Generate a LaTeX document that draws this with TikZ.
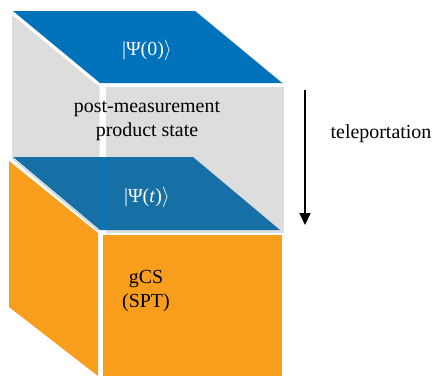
\documentclass[tikz,border=0pt]{standalone}
\usepackage{fontspec}
\setmainfont{Liberation Serif}
\usetikzlibrary{arrows.meta}
\definecolor{topblue}{RGB}{0,114,187}
\definecolor{midblue}{RGB}{22,112,166}
\definecolor{gapblue}{RGB}{8,117,186}
\definecolor{facegray}{RGB}{221,221,221}
\definecolor{edgegray}{RGB}{200,200,200}
\definecolor{cubeorange}{RGB}{249,158,28}
\begin{document}
\begin{tikzpicture}[x=1bp,y=-1bp,
  lbl/.style={font=\fontsize{20}{24}\selectfont, align=center, inner sep=0pt},
  flow/.style={line width=2bp, -{Triangle[width=11bp,length=12bp]}}]
\useasboundingbox (0,0) rectangle (434,376);
% gray faces (upper block)
\fill[facegray] (12,15) -- (99.5,87) -- (99.5,157) -- (12,157) -- cycle;
\fill[facegray] (106,87) rectangle (284,233);
% top blue face
\draw[edgegray, line width=1bp] (196,12) -- (283,84);
\fill[topblue] (13,11) -- (195,11) -- (282,83) -- (100,83) -- cycle;
% orange faces (lower block)
\fill[cubeorange] (9,161) -- (98,233) -- (98,376) -- (9,307) -- cycle;
\fill[cubeorange] (103,235) rectangle (282,376);
% middle blue face
\draw[edgegray, line width=1bp] (12,158) -- (99,231);
\fill[midblue] (13,157) -- (193,157) -- (280,230) -- (100,230) -- cycle;
\fill[gapblue] (100.5,157) rectangle (105.5,230);
% labels
\node[lbl, text=white] (psi0) at (147,50) {|Ψ(0)$\rangle$};
\node[lbl] (post) at (147,121) {post-measurement\\product state};
\node[lbl, text=white] (psit) at (147,197) {|Ψ(\textit{t})$\rangle$};
\node[lbl] (gcs) at (146,291) {gCS\\(SPT)};
\node[lbl] (tele) at (381,134) {teleportation};
% arrow
\coordinate (astart) at (305,90);
\coordinate (aend) at (305,225);
\draw[flow] (astart) -- (aend);
\end{tikzpicture}
\end{document}
